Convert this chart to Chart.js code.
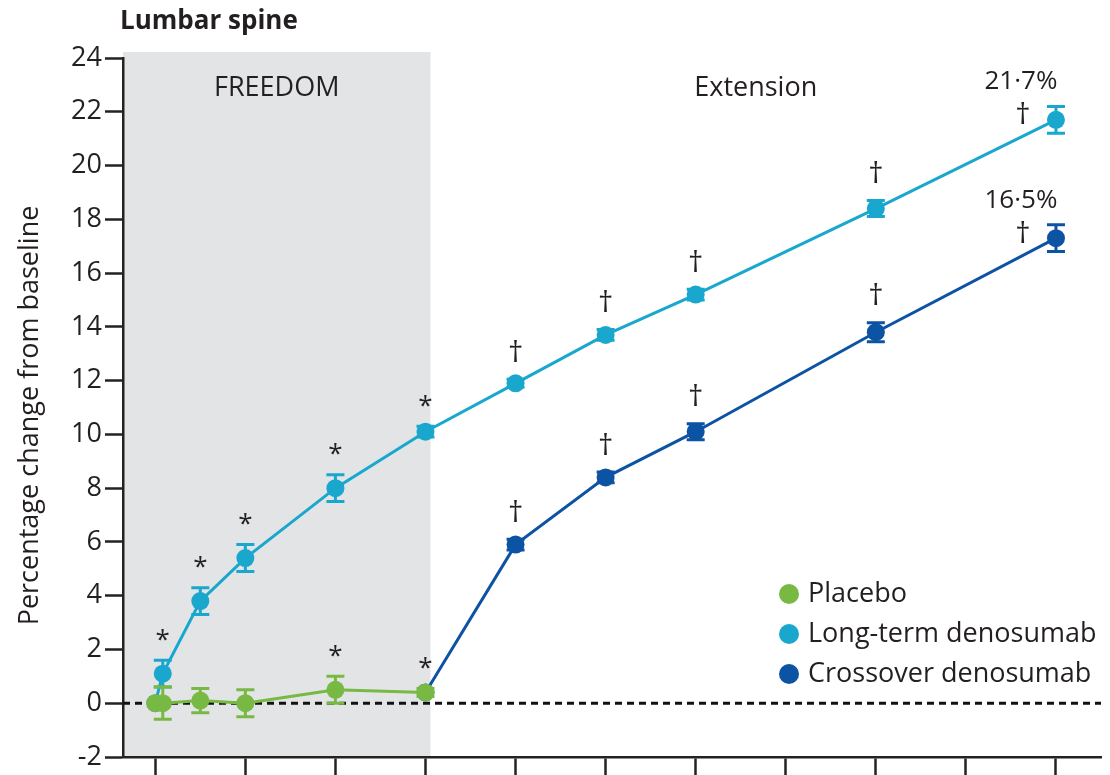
<!DOCTYPE html>
<html>
<head>
<meta charset="utf-8">
<script src="https://cdn.jsdelivr.net/npm/chart.js@4.4.1/dist/chart.umd.min.js"></script>
<style>
  html, body { margin: 0; padding: 0; background: #fff; }
  canvas { display: block; }
</style>
</head>
<body>
<canvas id="chart" width="1110" height="775"></canvas>
<script>
// months since FREEDOM baseline, % change in lumbar spine BMD, error bar half-width
const placeboMonths = [0, 1, 6, 12, 24, 36];
const placeboPct = [0, 0, 0.1, 0, 0.5, 0.4];
const placeboErr = [0, 0.6, 0.45, 0.5, 0.5, 0.15];
const placeboMarks = ["", "", "", "", "*", "*"];

const longMonths = [0, 1, 6, 12, 24, 36, 48, 60, 72, 96, 120];
const longPct = [0, 1.1, 3.8, 5.4, 8.0, 10.1, 11.9, 13.7, 15.2, 18.4, 21.7];
const longErr = [0, 0.5, 0.5, 0.5, 0.5, 0.2, 0.15, 0.2, 0.2, 0.3, 0.5];
const longMarks = ["", "*", "*", "*", "*", "*", "†", "†", "†", "†", "†"];

const crossMonths = [36, 48, 60, 72, 96, 120];
const crossPct = [0.4, 5.9, 8.4, 10.1, 13.8, 17.3];
const crossErr = [0, 0.2, 0.2, 0.3, 0.35, 0.5];
const crossMarks = ["", "†", "†", "†", "†", "†"];

const seriesNames = ["Placebo", "Long-term denosumab", "Crossover denosumab"];
const seriesColors = ["#78b944", "#19a7ce", "#0d53a3"];
const endLabels = ["", "21·7%", "16·5%"];

const xTickMonths = [0, 12, 24, 36, 48, 60, 72, 84, 96, 108, 120];
const freedomEnd = 36;
const phaseLabels = ["FREEDOM", "Extension"];
const chartTitle = "Lumbar spine";
const yTitle = "Percentage change from baseline";

const FONT = '"Open Sans", sans-serif';
const INK = "#231f20";

const errs = [placeboErr, longErr, crossErr];
const marks = [placeboMarks, longMarks, crossMarks];

function pts(xs, ys) {
  return xs.map((x, i) => ({ x: x, y: ys[i] }));
}

function text(ctx, str, x, y, size, align, weight) {
  ctx.save();
  ctx.font = (weight || "400") + " " + size + "px " + FONT;
  ctx.fillStyle = INK;
  ctx.textAlign = align || "left";
  ctx.textBaseline = "middle";
  ctx.fillText(str, x, y);
  ctx.restore();
}

const decor = {
  id: "decor",
  beforeDraw(chart) {
    const { ctx, chartArea: a, scales: { x } } = chart;
    ctx.save();
    ctx.fillStyle = "#e3e4e6";
    const r = x.getPixelForValue(freedomEnd) + 5;
    ctx.fillRect(a.left, a.top - 6, r - a.left, a.bottom - a.top + 6);
    ctx.restore();
  },
  beforeDatasetsDraw(chart) {
    const { ctx, chartArea: a, scales: { y } } = chart;
    const y0 = y.getPixelForValue(0);
    ctx.save();
    ctx.strokeStyle = "#111";
    ctx.lineWidth = 3;
    ctx.setLineDash([7, 5]);
    ctx.beginPath();
    ctx.moveTo(a.left, y0);
    ctx.lineTo(a.right, y0);
    ctx.stroke();
    ctx.restore();
  },
  beforeDatasetDraw(chart, args) {
    // error bars for this series, under its markers
    const { ctx, scales: { x, y } } = chart;
    const i = args.index;
    const ds = chart.data.datasets[i];
    ctx.save();
    ctx.strokeStyle = seriesColors[i];
    ctx.lineWidth = 3;
    ds.data.forEach((p, k) => {
      const e = errs[i][k];
      if (!e) return;
      const px = x.getPixelForValue(p.x);
      const hi = y.getPixelForValue(p.y + e);
      const lo = y.getPixelForValue(p.y - e);
      ctx.beginPath();
      ctx.moveTo(px, hi); ctx.lineTo(px, lo);
      ctx.moveTo(px - 9, hi); ctx.lineTo(px + 9, hi);
      ctx.moveTo(px - 9, lo); ctx.lineTo(px + 9, lo);
      ctx.stroke();
    });
    ctx.restore();
  },
  afterDraw(chart) {
    const { ctx, chartArea: a, scales: { x, y } } = chart;

    // y tick labels
    y.ticks.forEach(t => {
      text(ctx, String(t.value), a.left - 21, y.getPixelForValue(t.value), 27, "right");
    });

    // y axis title
    ctx.save();
    ctx.translate(30, (a.top + a.bottom) / 2 + 8);
    ctx.rotate(-Math.PI / 2);
    text(ctx, yTitle, 0, 0, 27, "center");
    ctx.restore();

    text(ctx, chartTitle, 120, 22, 26, "left", "700");

    const shadeR = x.getPixelForValue(freedomEnd) + 5;
    text(ctx, phaseLabels[0], (a.left + shadeR) / 2, 88, 27, "center");
    text(ctx, phaseLabels[1], x.getPixelForValue(80), 88, 27, "center");

    // significance marks and end labels
    chart.data.datasets.forEach((ds, i) => {
      const n = ds.data.length;
      ds.data.forEach((p, k) => {
        const m = marks[i][k];
        const px = x.getPixelForValue(p.x);
        const py = y.getPixelForValue(p.y);
        if (k === n - 1 && endLabels[i]) {
          if (m) text(ctx, m, px - 33, py - 4, 30, "center");
          text(ctx, endLabels[i], px - 35, py - 38, 26, "center");
          return;
        }
        if (!m) return;
        const top = y.getPixelForValue(p.y + errs[i][k]) - 26;
        if (m === "*") text(ctx, m, px, top + 6, 26, "center");
        else text(ctx, m, px, top, 30, "center");
      });
    });

    // legend
    seriesNames.forEach((name, i) => {
      const ly = 594 + i * 40;
      ctx.save();
      ctx.fillStyle = seriesColors[i];
      ctx.beginPath();
      ctx.arc(789, ly, 10, 0, Math.PI * 2);
      ctx.fill();
      ctx.restore();
      text(ctx, name, 808, ly, 27, "left");
    });
  }
};

const series = [
  pts(placeboMonths, placeboPct),
  pts(longMonths, longPct),
  pts(crossMonths, crossPct)
];

new Chart(document.getElementById("chart"), {
  type: "scatter",
  data: {
    datasets: series.map((data, i) => ({
      label: seriesNames[i],
      data: data,
      showLine: true,
      borderColor: seriesColors[i],
      backgroundColor: seriesColors[i],
      borderWidth: 3,
      pointRadius: 9,
      pointHoverRadius: 9,
      pointBorderWidth: 0
    }))
  },
  options: {
    responsive: false,
    animation: false,
    devicePixelRatio: 1,
    layout: { padding: { top: 58, right: 3, bottom: 0, left: 0 } },
    plugins: { legend: { display: false }, tooltip: { enabled: false } },
    scales: {
      x: {
        type: "linear",
        min: -4.3,
        max: 126,
        afterBuildTicks: s => { s.ticks = xTickMonths.map(v => ({ value: v })); },
        ticks: { display: false },
        grid: { drawOnChartArea: false, tickLength: 18, tickWidth: 2.5, tickColor: "#222" },
        border: { color: "#222", width: 2.5 }
      },
      y: {
        min: -2,
        max: 24,
        ticks: { display: false, stepSize: 2 },
        afterFit: s => { s.width = 123; },
        grid: { drawOnChartArea: false, tickLength: 18, tickWidth: 2.5, tickColor: "#222" },
        border: { color: "#222", width: 2.5 }
      }
    }
  },
  plugins: [decor]
});
</script>
</body>
</html>
